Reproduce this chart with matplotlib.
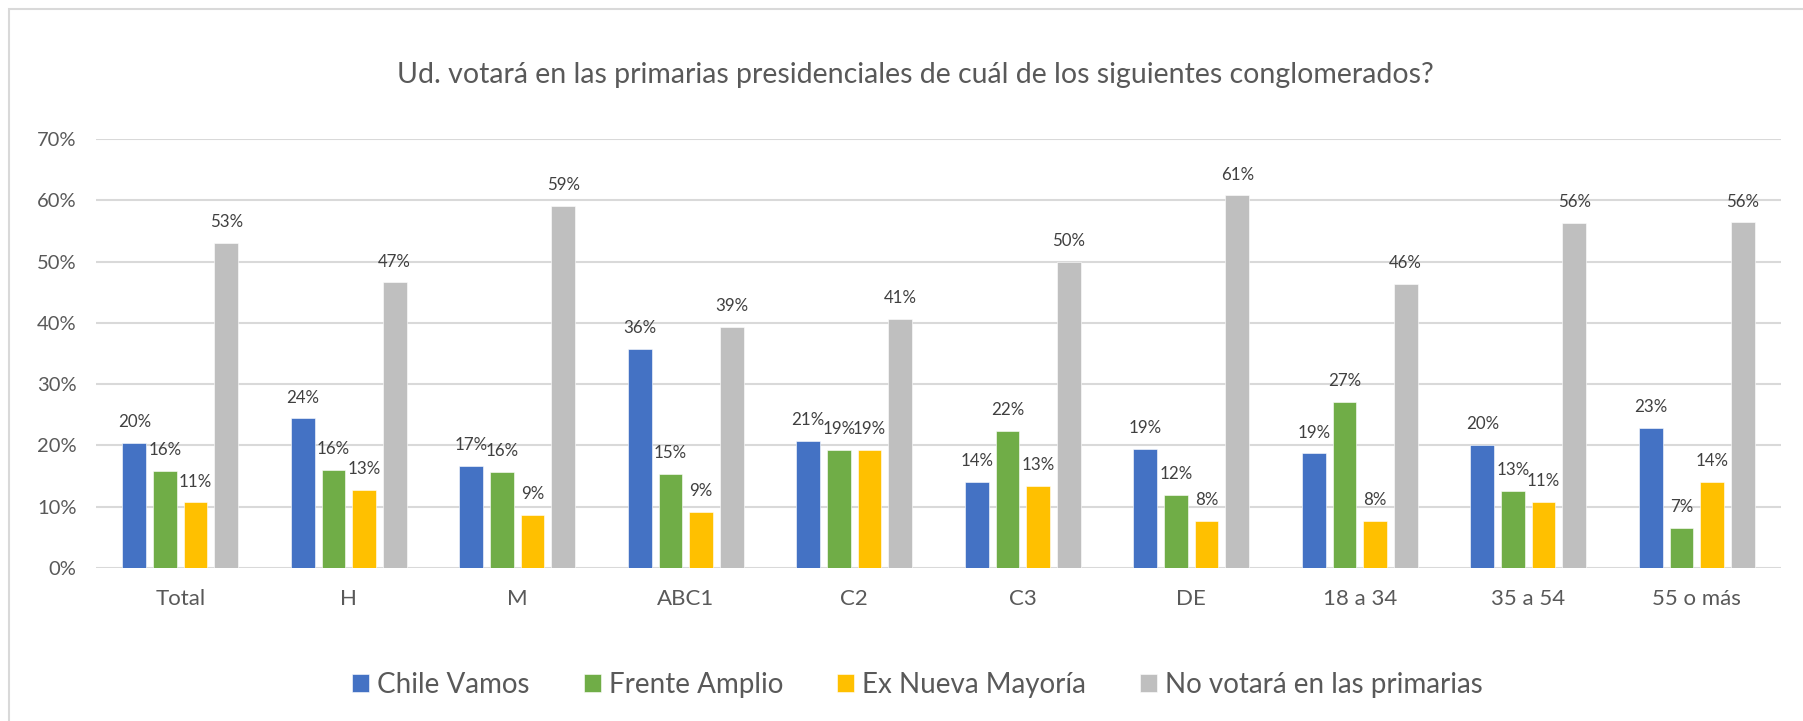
import matplotlib
matplotlib.use("Agg")
import matplotlib.pyplot as plt
from matplotlib.patches import Rectangle
import numpy as np

plt.rcParams['font.family'] = ['Lato', 'DejaVu Sans']

categories = ["Total", "H", "M", "ABC1", "C2", "C3", "DE", "18 a 34", "35 a 54", "55 o más"]
series_names = ["Chile Vamos", "Frente Amplio", "Ex Nueva Mayoría", "No votará en las primarias"]
chile_vamos = [20.4, 24.4, 16.6, 35.8, 20.8, 14.1, 19.4, 18.7, 20.1, 22.9]
frente_amplio = [15.9, 16.0, 15.7, 15.4, 19.2, 22.3, 11.9, 27.1, 12.6, 6.6]
ex_nueva_mayoria = [10.7, 12.7, 8.7, 9.1, 19.2, 13.4, 7.7, 7.7, 10.8, 14.0]
no_votara = [53.0, 46.6, 59.1, 39.3, 40.6, 50.0, 60.8, 46.4, 56.3, 56.4]
colors = ["#4472C4", "#70AD47", "#FFC000", "#BFBFBF"]
title = "Ud. votará en las primarias presidenciales de cuál de los siguientes conglomerados?"

fig = plt.figure(figsize=(18.03, 7.21), dpi=100)
ax = fig.add_axes([96 / 1803, 1 - 568 / 721, (1781 - 96) / 1803, (568 - 139) / 721])

x = np.arange(len(categories))
step = 0.182
width = 0.14
for i, (name, vals, col) in enumerate(zip(series_names,
                                          [chile_vamos, frente_amplio, ex_nueva_mayoria, no_votara],
                                          colors)):
    pos = x + (i - 1.5) * step
    bars = ax.bar(pos, vals, width=width, color=col, label=name, zorder=3,
                  edgecolor="white", linewidth=0.4)
    for b, v in zip(bars, vals):
        ax.annotate(f"{round(v)}%", (b.get_x() + b.get_width() / 2, v),
                    xytext=(0, 15), textcoords="offset points",
                    ha="center", va="center", fontsize=12.2, color="#404040")

ax.set_xlim(-0.5, len(categories) - 0.5)
ax.set_ylim(0, 70)
ax.set_yticks(range(0, 71, 10))
ax.set_yticklabels([f"{t}%" for t in range(0, 71, 10)])
ax.set_xticks(x)
ax.set_xticklabels(categories)
ax.tick_params(axis="y", length=0, pad=14, labelsize=14.5, labelcolor="#595959")
ax.tick_params(axis="x", length=0, pad=15, labelsize=16, labelcolor="#595959")
ax.grid(axis="y", color="#D9D9D9", linewidth=1.5, zorder=0)
for s in ax.spines.values():
    s.set_visible(False)

fig.text(0.5075, 1 - 75 / 721, title, ha="center", va="center", fontsize=20.5, color="#595959")

fig.legend(loc="center", bbox_to_anchor=(0.509, 1 - 685 / 721), ncol=4, frameon=False,
           fontsize=20, labelcolor="#595959", handlelength=0.6, handleheight=0.6,
           handletextpad=0.3, columnspacing=1.95)

fig.add_artist(Rectangle((9 / 1803, -0.2), 1.2, 1.2 - 9 / 721, transform=fig.transFigure,
                         fill=False, edgecolor="#D9D9D9", linewidth=1.5, clip_on=False))

fig.savefig("out.png", dpi=100, facecolor="white")
